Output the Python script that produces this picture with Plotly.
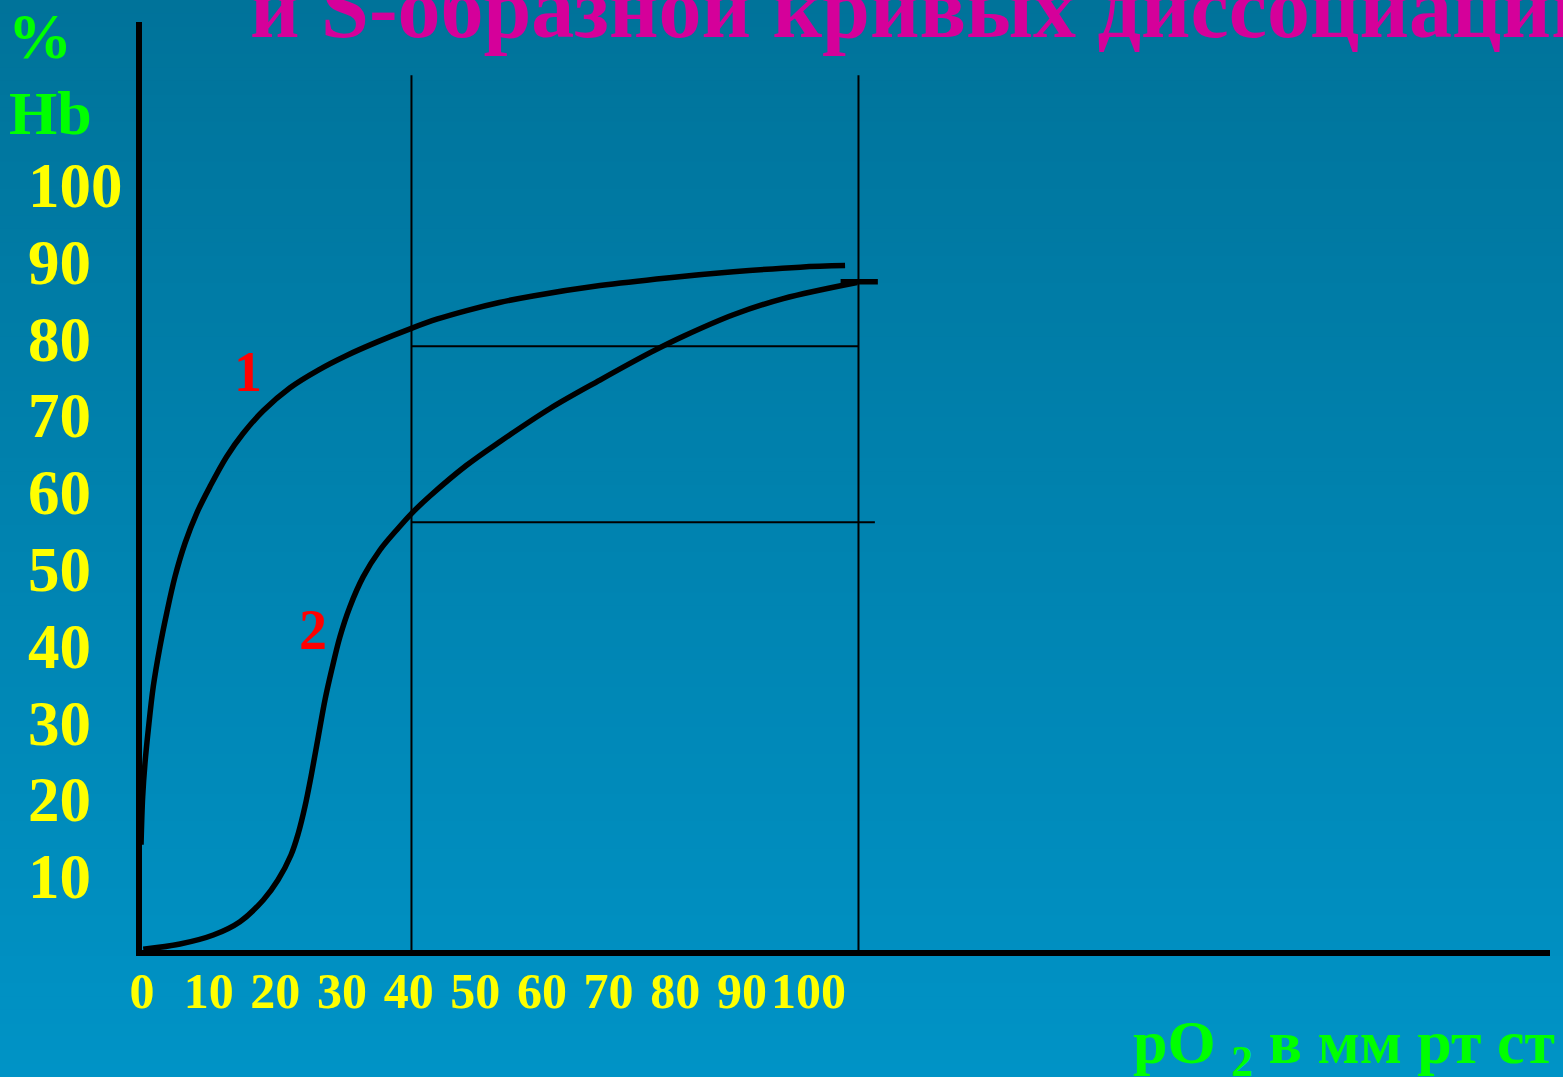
import plotly.graph_objects as go

# ---------------- data ----------------
# curve 1 : hyperbolic dissociation curve
curve1_x = [3.7, 3.92, 4.23, 4.67, 5.34, 6.24, 7.14, 8.26, 9.60, 11.17, 12.95, 15.19,
            17.42, 20.1, 23.7, 27.5, 31.3, 35.5, 39.9, 43.5, 47.4, 51.8, 56.3, 65.3, 74.3,
            83.2, 92.2, 98.2]
curve1_y = [14.1, 20.35, 24.7, 29.04, 34.67, 39.88, 44.23, 49.0, 53.35, 57.25, 60.72, 64.62,
            67.67, 70.6, 73.6, 75.9, 77.8, 79.6, 81.3, 82.55, 83.65, 84.7, 85.55, 86.9, 87.9,
            88.7, 89.3, 89.5]
# curve 2 : S-shaped dissociation curve
curve2_x = [4.0, 8.93, 13.40, 16.98, 20.11, 22.08, 23.83, 24.81, 25.70, 26.60, 27.49, 28.39,
            29.29, 30.40, 31.74, 33.53, 35.77, 38.01, 40.03, 42.48, 47.4, 51.9, 58.6, 65.3,
            72.1, 76.5, 83.2, 89.9, 99.8]
curve2_y = [0.48, 1.17, 2.34, 4.08, 6.90, 9.5, 12.76, 15.59, 19.05, 23.40, 28.16, 32.94,
            36.85, 41.18, 45.09, 49.0, 52.47, 55.08, 57.25, 59.5, 63.5, 66.6, 70.9, 74.6,
            78.2, 80.3, 83.1, 85.2, 87.3]
# short end mark on curve 2
end_mark_x = [97.6, 102.6]
end_mark_y = [87.4, 87.4]

# guide lines
vline_x = [40, 100]
vline_top = 114.3
hline_upper = {"y": 79.0, "x0": 40, "x1": 100}
hline_lower = {"y": 56.1, "x0": 40, "x1": 102.2}

# tick labels
y_tick_vals = [10, 20, 30, 40, 50, 60, 70, 80, 90, 100]
y_tick_text = [str(v) for v in y_tick_vals]
x_tick_vals = [0, 10, 20, 30, 40, 50, 60, 70, 80, 90, 100]
x_tick_text = [str(v) for v in x_tick_vals]

title_text = "и S-образной кривых диссоциации"
y_title_1 = "%"
y_title_2 = "Hb"
x_title = "pO <sub>2</sub> в мм рт ст"
curve_labels = [("1", 18.1, 75.7), ("2", 26.8, 42.1)]

# ---------------- layout geometry ----------------
W, H = 1563, 1077
L_px, R_px, T_px, B_px = 142, 1550, 22, 950      # plot area edges
x_range = [3.83, 192.82]
y_range = [0.39, 121.22]
# label axis for the x tick numbers (slightly compressed in the original)
lab_px0, lab_slope = 142.0, 6.666
x2_range = [(0 - lab_px0) / lab_slope, (W - lab_px0) / lab_slope]

SERIF = "Liberation Serif"
BLACK = "#000000"

fig = go.Figure()

# thin guide lines
for vx in vline_x:
    fig.add_trace(go.Scatter(x=[vx, vx], y=[0, vline_top], mode="lines",
                             line=dict(color=BLACK, width=2), hoverinfo="skip"))
for h in (hline_upper, hline_lower):
    fig.add_trace(go.Scatter(x=[h["x0"], h["x1"]], y=[h["y"], h["y"]], mode="lines",
                             line=dict(color=BLACK, width=2), hoverinfo="skip"))

# curves
fig.add_trace(go.Scatter(x=curve1_x, y=curve1_y, mode="lines",
                         line=dict(color=BLACK, width=5.5, shape="spline", smoothing=1.0)))
fig.add_trace(go.Scatter(x=curve2_x, y=curve2_y, mode="lines",
                         line=dict(color=BLACK, width=5.5, shape="spline", smoothing=1.0)))
fig.add_trace(go.Scatter(x=end_mark_x, y=end_mark_y, mode="lines",
                         line=dict(color=BLACK, width=5.5)))

# dummy trace for label axes
fig.add_trace(go.Scatter(x=[None], y=[None], xaxis="x2", yaxis="y2", mode="lines",
                         hoverinfo="skip"))

# gradient background
n_strips = 80
top_rgb = (0, 115, 154)
bot_rgb = (0, 147, 198)
shapes = []
for i in range(n_strips):
    t = i / (n_strips - 1)
    c = tuple(round(top_rgb[k] + (bot_rgb[k] - top_rgb[k]) * t) for k in range(3))
    shapes.append(dict(type="rect", xref="paper", yref="paper", layer="below",
                       x0=0, x1=1, y1=1 - i / n_strips, y0=1 - (i + 1) / n_strips - 0.002,
                       fillcolor="rgb(%d,%d,%d)" % c, line=dict(width=0)))

annotations = [
    dict(text=title_text, xref="paper", yref="paper", x=248 / W, y=1 - 58.5 / H,
         xanchor="left", yanchor="bottom", showarrow=False,
         font=dict(family=SERIF, size=86, color="#D5009A", weight="bold")),
    dict(text=y_title_1, xref="paper", yref="paper", x=40 / W, y=1 - 37 / H,
         xanchor="center", yanchor="middle", showarrow=False,
         font=dict(family=SERIF, size=64, color="#00FF00", weight="bold")),
    dict(text=y_title_2, xref="paper", yref="paper", x=51 / W, y=1 - 113 / H,
         xanchor="center", yanchor="middle", showarrow=False,
         font=dict(family=SERIF, size=62, color="#00FF00", weight="bold")),
    dict(text=x_title, xref="paper", yref="paper", x=1557 / W, y=1 - 1046 / H,
         xanchor="right", yanchor="middle", showarrow=False,
         font=dict(family=SERIF, size=62, color="#00FF00", weight="bold")),
]
for txt, ax_, ay_ in curve_labels:
    annotations.append(dict(text=txt, x=ax_, y=ay_, xref="x", yref="y", showarrow=False,
                            xanchor="center", yanchor="middle",
                            font=dict(family=SERIF, size=56, color="#FF0000", weight="bold")))

fig.update_layout(
    width=W, height=H,
    margin=dict(l=0, r=0, t=0, b=0),
    paper_bgcolor="rgb(0,130,176)",
    plot_bgcolor="rgba(0,0,0,0)",
    showlegend=False,
    shapes=shapes,
    annotations=annotations,
    xaxis=dict(domain=[L_px / W, R_px / W], range=x_range, showgrid=False, zeroline=False,
               showline=True, linecolor=BLACK, linewidth=6, showticklabels=False,
               ticks="", anchor="y"),
    yaxis=dict(domain=[1 - B_px / H, 1 - T_px / H], range=y_range, showgrid=False,
               zeroline=False, showline=True, linecolor=BLACK, linewidth=6,
               showticklabels=False, ticks="", anchor="x"),
    xaxis2=dict(domain=[0, 1], range=x2_range, anchor="free", position=1 - 957 / H,
                side="bottom", showgrid=False, zeroline=False, showline=False, ticks="",
                tickvals=x_tick_vals, ticktext=x_tick_text,
                tickfont=dict(family=SERIF, size=50, color="#FFFF00", weight="bold")),
    yaxis2=dict(domain=[1 - B_px / H, 1 - T_px / H], range=y_range, anchor="free",
                position=27 / W, side="right", showgrid=False, zeroline=False,
                showline=False, ticks="", tickvals=y_tick_vals, ticktext=y_tick_text,
                tickfont=dict(family=SERIF, size=63, color="#FFFF00", weight="bold")),
)

fig.write_html("out.html", config={"displayModeBar": False},
               post_script="document.body.style.margin='0';document.body.style.overflow='hidden';")
